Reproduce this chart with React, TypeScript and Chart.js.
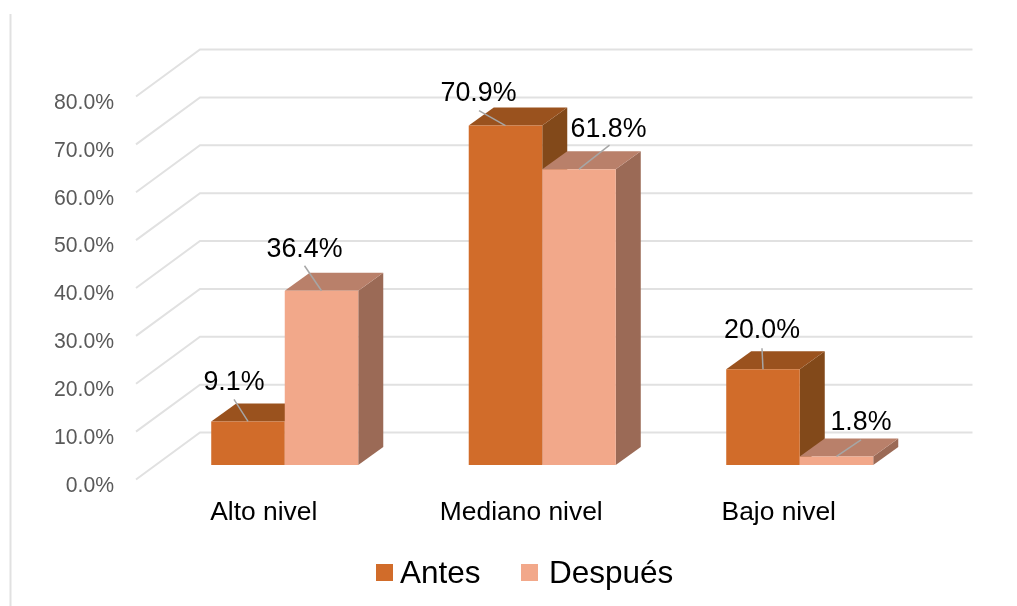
import React, { useEffect, useRef } from "react";
import { Chart, registerables } from "chart.js";

Chart.register(...registerables);

const categories = ["Alto nivel", "Mediano nivel", "Bajo nivel"];
const antes = [9.1, 70.9, 20.0];
const despues = [36.4, 61.8, 1.8];
const seriesNames = ["Antes", "Después"];

const FONT = '"Liberation Sans", Arial, sans-serif';

// Colours of each box: front, top and side faces.
const antesFaces = { front: "#D16C2A", top: "#9A521E", side: "#82491A" };
const despuesFaces = { front: "#F2A88A", top: "#B9806A", side: "#9B6A56" };
const faces = [antesFaces, despuesFaces];

// Receding offsets of the 3D box and of the floor/wall planes.
const BAR_DEPTH = { dx: 25, dy: -18 };
const WALL_FRONT = { dx: -20, dy: 14.5 };
const WALL_BACK = { dx: 44, dy: -32.5 };

// Data label placement relative to the top centre of each bar:
// label centre (lx, ly) and outer end of the leader line (ex, ey).
const labelPlacement = [
  [
    { lx: -14, ly: -39, ex: -14, ey: -22 },
    { lx: -27, ly: -32, ex: -26.5, ey: -15 },
    { lx: -1, ly: -39, ex: -1, ey: -21 },
  ],
  [
    { lx: -17, ly: -41.5, ex: -17, ey: -25 },
    { lx: 29.5, ly: -40, ex: 30.5, ey: -24 },
    { lx: 24.5, ly: -33.5, ex: 24.5, ey: -16.5 },
  ],
];

const poly = (ctx: CanvasRenderingContext2D, pts: number[][], fill: string) => {
  ctx.beginPath();
  pts.forEach(([x, y], i) => (i ? ctx.lineTo(x, y) : ctx.moveTo(x, y)));
  ctx.closePath();
  ctx.fillStyle = fill;
  ctx.fill();
};

const box3d = {
  id: "box3d",
  // Draws the wall grid, then each series in turn so the later one overlaps
  // the earlier one: side and top faces first, the library's bars on top.
  beforeDatasetsDraw(chart: any) {
    const { ctx, scales, chartArea } = chart;
    ctx.save();
    ctx.strokeStyle = "#E1E1E1";
    ctx.lineWidth = 2;
    ctx.beginPath();
    ctx.moveTo(10.5, 14);
    ctx.lineTo(10.5, 606);
    ctx.stroke();
    scales.y.ticks.forEach((t: any) => {
      const y = scales.y.getPixelForValue(t.value);
      ctx.beginPath();
      ctx.moveTo(chartArea.left + WALL_FRONT.dx, y + WALL_FRONT.dy);
      ctx.lineTo(chartArea.left + WALL_BACK.dx, y + WALL_BACK.dy);
      ctx.lineTo(chartArea.right + WALL_BACK.dx, y + WALL_BACK.dy);
      ctx.stroke();
    });
    const { dx, dy } = BAR_DEPTH;
    chart.data.datasets.forEach((_: any, i: number) => {
      const meta = chart.getDatasetMeta(i);
      const colors = faces[i];
      meta.data.forEach((bar: any) => {
        const l = bar.x - bar.width / 2;
        const r = bar.x + bar.width / 2;
        const t = bar.y;
        const b = bar.base;
        poly(ctx, [[r, t], [r + dx, t + dy], [r + dx, b + dy], [r, b]], colors.side);
        poly(ctx, [[l, t], [l + dx, t + dy], [r + dx, t + dy], [r, t]], colors.top);
      });
      meta.controller.draw();
    });
    ctx.restore();
    return false;
  },
  // Data labels with their leader lines, then the legend.
  afterDraw(chart: any) {
    const { ctx } = chart;
    ctx.save();
    chart.data.datasets.forEach((ds: any, i: number) => {
      chart.getDatasetMeta(i).data.forEach((bar: any, j: number) => {
        const p = labelPlacement[i][j];
        ctx.strokeStyle = "#A6A6A6";
        ctx.lineWidth = 1.5;
        ctx.beginPath();
        ctx.moveTo(bar.x, bar.y);
        ctx.lineTo(bar.x + p.ex, bar.y + p.ey);
        ctx.stroke();
        ctx.fillStyle = "#000";
        ctx.font = `26.8px ${FONT}`;
        ctx.textAlign = "center";
        ctx.textBaseline = "middle";
        ctx.fillText(`${ds.data[j].toFixed(1)}%`, bar.x + p.lx, bar.y + p.ly);
      });
    });
    const swatchX = [376, 521];
    const textGap = [24, 28];
    chart.data.datasets.forEach((ds: any, i: number) => {
      ctx.fillStyle = faces[i].front;
      ctx.fillRect(swatchX[i], 564, 17, 17);
      ctx.fillStyle = "#000";
      ctx.font = `31.5px ${FONT}`;
      ctx.textAlign = "left";
      ctx.textBaseline = "middle";
      ctx.fillText(ds.label, swatchX[i] + textGap[i], 574);
    });
    ctx.restore();
  },
};

export default function App() {
  const ref = useRef<HTMLCanvasElement>(null);
  useEffect(() => {
    const chart = new Chart(ref.current!, {
      type: "bar",
      data: {
        labels: categories,
        datasets: [
          { label: seriesNames[0], data: antes, backgroundColor: antesFaces.front },
          { label: seriesNames[1], data: despues, backgroundColor: despuesFaces.front },
        ],
      },
      options: {
        responsive: false,
        animation: false,
        events: [],
        layout: { padding: { top: 82, right: 88.5, left: 0, bottom: 0 } },
        datasets: { bar: { categoryPercentage: 0.571, barPercentage: 1 } },
        plugins: { legend: { display: false }, tooltip: { enabled: false } },
        scales: {
          x: {
            grid: { display: false, drawTicks: false },
            border: { display: false },
            afterFit: (s: any) => {
              s.height = 141;
            },
            ticks: {
              color: "#000",
              font: { family: FONT, size: 26.4 },
              padding: 32,
              labelOffset: -21,
              maxRotation: 0,
              autoSkip: false,
            },
          },
          y: {
            min: 0,
            max: 80,
            grid: { display: false, drawTicks: false },
            border: { display: false },
            afterFit: (s: any) => {
              s.width = 156;
            },
            ticks: {
              stepSize: 10,
              color: "#595959",
              font: { family: FONT, size: 21.2 },
              padding: 42,
              labelOffset: 21,
              callback: (v: any) => `${Number(v).toFixed(1)}%`,
            },
          },
        },
      },
      plugins: [box3d],
    } as any);
    return () => chart.destroy();
  }, []);
  return (
    <div style={{ position: "absolute", left: 0, top: 0, width: 1017, height: 606, background: "#fff" }}>
      <canvas ref={ref} width={1017} height={606} style={{ display: "block" }} />
    </div>
  );
}
